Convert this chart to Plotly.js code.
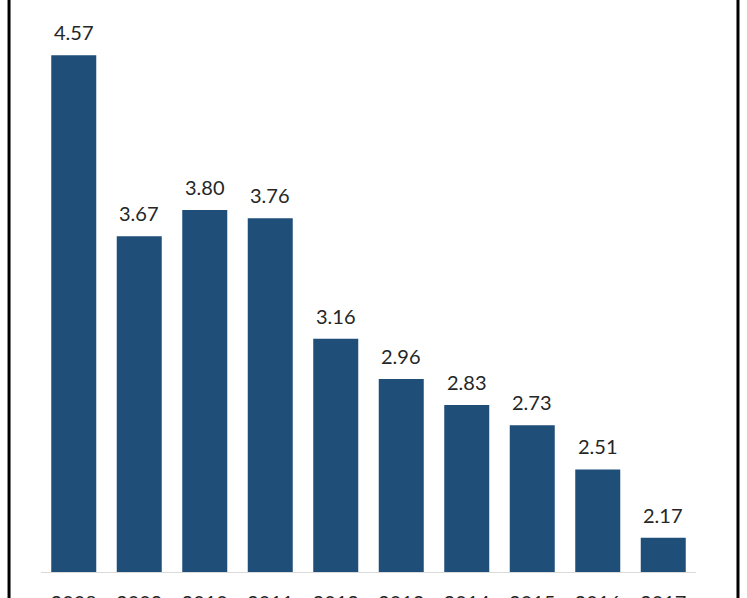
<!DOCTYPE html>
<html>
<head>
<meta charset="utf-8">
<script src="https://cdn.plot.ly/plotly-3.0.1.min.js"></script>
<style>
  html, body { margin: 0; padding: 0; background: #fff; }
  #chart { width: 747px; height: 598px; }
</style>
</head>
<body>
<div id="chart"></div>
<script>
// values
let years = ['2008', '2009', '2010', '2011', '2012', '2013', '2014', '2015', '2016', '2017']
let values = [4.57, 3.67, 3.80, 3.76, 3.16, 2.96, 2.83, 2.73, 2.51, 2.17]
let valueLabels = values.map(v => v.toFixed(2))

let barColor = '#1F4E79'
let textColor = '#262626'
let font = 'Lato, "Open Sans", sans-serif'

// on a category axis the annotation x is the category index
let annotations = years.map((yr, i) => ({
    x: i,
    y: values[i],
    text: valueLabels[i],
    showarrow: false,
    xanchor: 'center',
    yanchor: 'bottom',
    yshift: 9,
    font: { family: font, size: 20, color: textColor }
}))

Plotly.newPlot('chart', [{
    x: years,
    y: values,
    type: 'bar',
    marker: { color: barColor },
    hoverinfo: 'none'
}], {
    width: 747,
    height: 598,
    margin: { l: 40.5, r: 51, t: 0, b: 26 },
    paper_bgcolor: '#ffffff',
    plot_bgcolor: '#ffffff',
    bargap: 0.313,
    showlegend: false,
    xaxis: {
        type: 'category',
        range: [-0.5, years.length - 0.5],
        showgrid: false,
        showline: true,
        linecolor: '#d9d9d9',
        linewidth: 1,
        ticks: '',
        ticklabelstandoff: 13,
        tickfont: { family: font, size: 20, color: textColor },
        fixedrange: true
    },
    yaxis: {
        range: [2.0, 4.845],
        visible: false,
        showgrid: false,
        zeroline: false,
        fixedrange: true
    },
    annotations: annotations,
    shapes: [
        // frame lines at the left and right edges
        { type: 'line', xref: 'paper', yref: 'paper', x0: -0.0488, x1: -0.0488, y0: -0.2, y1: 1.2,
          line: { color: '#000', width: 3 } },
        { type: 'line', xref: 'paper', yref: 'paper', x0: 1.0641, x1: 1.0641, y0: -0.2, y1: 1.2,
          line: { color: '#000', width: 3 } }
    ]
}, { displayModeBar: false, staticPlot: true });
</script>
</body>
</html>
